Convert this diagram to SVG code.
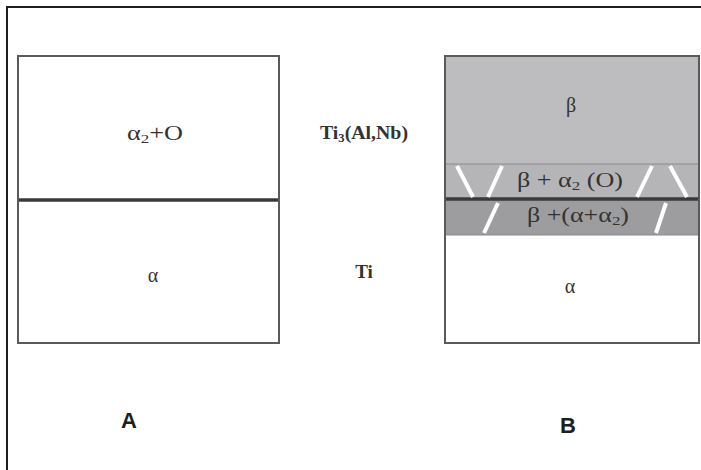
<svg xmlns="http://www.w3.org/2000/svg" width="701" height="470" viewBox="0 0 701 470">
<style>
.box{fill:none;stroke:#5a5a5a;stroke-width:2}
.div{stroke:#3a3a3a;stroke-width:3.5}
.thin{stroke:#8a8a8c;stroke-width:1}
.t{font-family:"Liberation Serif",serif;font-size:20px;fill:#333333;text-anchor:middle}
.tb{font-family:"Liberation Serif",serif;font-size:19px;font-weight:bold;fill:#333333;text-anchor:middle}
.lab{font-family:"Liberation Sans",Arial,sans-serif;font-size:22px;font-weight:bold;fill:#1e1e1e;text-anchor:middle}
.sl{stroke:#ffffff;stroke-width:4}
</style>
<rect x="0" y="0" width="701" height="470" fill="#ffffff"/>
<rect x="7" y="7" width="720" height="500" fill="none" stroke="#1e1e1e" stroke-width="2"/>
<g id="A">
<rect x="18" y="56" width="261" height="287" fill="#ffffff"/>
<line class="div" x1="18" y1="200" x2="279" y2="200"/>
<rect class="box" x="18" y="56" width="261" height="287"/>
<text class="t" x="155" y="140" textLength="56" lengthAdjust="spacingAndGlyphs">α<tspan font-size="13" dy="3">2</tspan><tspan dy="-3">+O</tspan></text>
<text class="t" x="153" y="282" font-size="23">α</text>
</g>
<g id="middle">
<text class="tb" x="364" y="139" textLength="88" lengthAdjust="spacingAndGlyphs">Ti<tspan font-size="12" dy="3">3</tspan><tspan dy="-3">(Al,Nb)</tspan></text>
<text class="tb" x="364" y="278" font-size="21">Ti</text>
</g>
<g id="B">
<rect x="445" y="56" width="254" height="108" fill="#bdbdbf"/>
<rect x="445" y="164" width="254" height="35" fill="#b5b5b7"/>
<rect x="445" y="199" width="254" height="36" fill="#9d9d9f"/>
<rect x="445" y="235" width="254" height="108" fill="#ffffff"/>
<line class="thin" x1="445" y1="164" x2="699" y2="164"/>
<line class="thin" x1="445" y1="235" x2="699" y2="235"/>
<line class="div" x1="445" y1="199" x2="699" y2="199"/>
<line class="sl" x1="457" y1="166" x2="473" y2="197"/>
<line class="sl" x1="502" y1="166" x2="488" y2="197"/>
<line class="sl" x1="652" y1="166" x2="637" y2="197"/>
<line class="sl" x1="670" y1="166" x2="687" y2="197"/>
<line class="sl" x1="498" y1="203" x2="484" y2="233"/>
<line class="sl" x1="666" y1="203" x2="656" y2="233"/>
<rect class="box" x="445" y="56" width="254" height="287"/>
<text class="t" x="571" y="112" font-size="22">β</text>
<text class="t" x="570" y="187" textLength="106" lengthAdjust="spacingAndGlyphs">β + α<tspan font-size="13" dy="3">2</tspan><tspan dy="-3"> (O)</tspan></text>
<text class="t" x="578" y="222" textLength="102" lengthAdjust="spacingAndGlyphs">β +(α+α<tspan font-size="13" dy="3">2</tspan><tspan dy="-3">)</tspan></text>
<text class="t" x="570" y="293" font-size="23">α</text>
</g>
<g id="labels">
<text class="lab" x="129" y="428">A</text>
<text class="lab" x="568" y="433">B</text>
</g>
</svg>
